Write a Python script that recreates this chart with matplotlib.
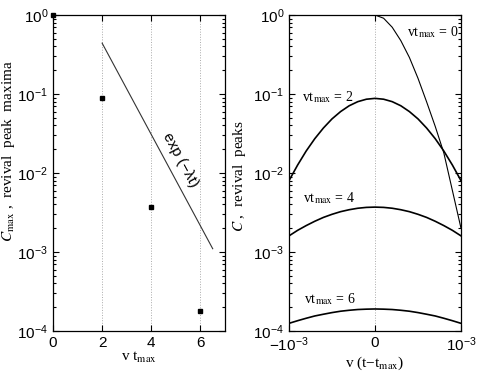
import numpy as np
import matplotlib
matplotlib.use("Agg")
import matplotlib.pyplot as plt
from matplotlib.ticker import LogLocator, NullFormatter

plt.rcParams["font.family"] = "Liberation Sans"
plt.rcParams["mathtext.fontset"] = "custom"
plt.rcParams["mathtext.rm"] = "Liberation Sans"
plt.rcParams["mathtext.it"] = "Liberation Sans:italic"

# ---- left panel: revival peak maxima ----
vt_max = [0, 2, 4, 6]
c_max = [1.0, 0.088, 0.0037, 0.00018]
fit_x = [2.0, 6.5]
fit_y = [0.44, 0.0011]

# ---- right panel: revival peak shapes, x in units of 1e-3 ----
x_full = [-1.0, -0.9, -0.8, -0.7, -0.6, -0.5, -0.4, -0.3, -0.2, -0.1, 0.0,
          0.1, 0.2, 0.3, 0.4, 0.5, 0.6, 0.7, 0.8, 0.9, 1.0]
x_half = [0.0, 0.1, 0.2, 0.3, 0.4, 0.5, 0.6, 0.7, 0.8, 0.9, 1.0]
peak_vt0 = [1.0, 0.91, 0.70, 0.474, 0.290, 0.158, 0.0796, 0.039, 0.018, 0.006, 0.0020]
peak_vt2 = [0.0080, 0.0126, 0.0190, 0.0272, 0.0371, 0.0484, 0.0599, 0.0710, 0.0800, 0.0859, 0.088,
            0.0859, 0.0800, 0.0710, 0.0599, 0.0484, 0.0371, 0.0272, 0.0190, 0.0126, 0.0080]
peak_vt4 = [0.0016, 0.00188, 0.00216, 0.00245, 0.00274, 0.00300, 0.00324, 0.00343, 0.00358, 0.00367, 0.0037,
            0.00367, 0.00358, 0.00343, 0.00324, 0.00300, 0.00274, 0.00245, 0.00216, 0.00188, 0.0016]
peak_vt6 = [1.25e-4, 1.35e-4, 1.45e-4, 1.55e-4, 1.63e-4, 1.71e-4, 1.78e-4, 1.83e-4, 1.87e-4, 1.89e-4, 1.90e-4,
            1.89e-4, 1.87e-4, 1.83e-4, 1.78e-4, 1.71e-4, 1.63e-4, 1.55e-4, 1.45e-4, 1.35e-4, 1.25e-4]
curve_labels = [(r"vt$_{\rm max}$ = 0", 0.37e-3, 0.60),
                (r"vt$_{\rm max}$ = 2", -0.85e-3, 0.092),
                (r"vt$_{\rm max}$ = 4", -0.84e-3, 0.0048),
                (r"vt$_{\rm max}$ = 6", -0.83e-3, 2.5e-4)]

SERIF = dict(family="Liberation Serif", math_fontfamily="stix")


def style_axes(ax):
    ax.set_yscale("log")
    ax.set_ylim(1e-4, 1)
    ax.yaxis.set_major_locator(LogLocator(base=10, numticks=10))
    ax.yaxis.set_minor_locator(LogLocator(base=10, subs=np.arange(2, 10), numticks=10))
    ax.yaxis.set_minor_formatter(NullFormatter())
    ax.tick_params(which="both", direction="in", top=True, right=True,
                   labelsize=11, width=0.8)
    ax.tick_params(which="major", length=4)
    ax.tick_params(which="minor", length=2)
    for s in ax.spines.values():
        s.set_linewidth(0.9)


fig = plt.figure(figsize=(4.85, 3.72), dpi=100)
axL = fig.add_axes([53 / 485, 41 / 372, 172 / 485, 316 / 372])
axR = fig.add_axes([289 / 485, 41 / 372, 172 / 485, 316 / 372])

# left
style_axes(axL)
axL.set_xlim(0, 7)
axL.set_xticks([0, 2, 4, 6])
for gx in [2, 4, 6]:
    axL.axvline(gx, color="#aaaaaa", ls=":", lw=0.7, zorder=0)
axL.plot(vt_max, c_max, "s", color="black", ms=3.5, clip_on=False, zorder=5)
axL.plot(fit_x, fit_y, color="#333333", lw=0.8)
axL.text(5.17, 0.0145, "exp (−λt)", rotation=-61.5, ha="center", va="center",
         fontsize=11, rotation_mode="anchor")
axL.set_xlabel(r"v t$_{\rm max}$", fontsize=11, labelpad=0, **SERIF)
axL.set_ylabel(r"$C_{\rm max}$ ,  revival  peak  maxima", fontsize=11, **SERIF)
axL.yaxis.set_label_coords(-0.21, 0.57)

# right
style_axes(axR)
xs = np.array(x_full) * 1e-3
xh = np.array(x_half) * 1e-3
axR.set_xlim(-1e-3, 1e-3)
axR.set_xticks([-1e-3, 0, 1e-3], [r"$-10^{-3}$", "0", r"$10^{-3}$"])
axR.axvline(0, color="#aaaaaa", ls=":", lw=0.7, zorder=0)
axR.plot(xh, peak_vt0, color="black", lw=0.8)
axR.plot(xs, peak_vt2, color="black", lw=1.2)
axR.plot(xs, peak_vt4, color="black", lw=1.2)
axR.plot(xs, peak_vt6, color="black", lw=1.2)
for txt, tx, ty in curve_labels:
    axR.text(tx, ty, txt, ha="left", va="center", fontsize=10, **SERIF)
axR.set_xlabel(r"v (t−t$_{\rm max}$)", fontsize=11, labelpad=0, **SERIF)
axR.set_ylabel(r"$C$ ,  revival  peaks", fontsize=11, **SERIF)
axR.yaxis.set_label_coords(-0.24, 0.49)

fig.savefig("out.png", dpi=100)
